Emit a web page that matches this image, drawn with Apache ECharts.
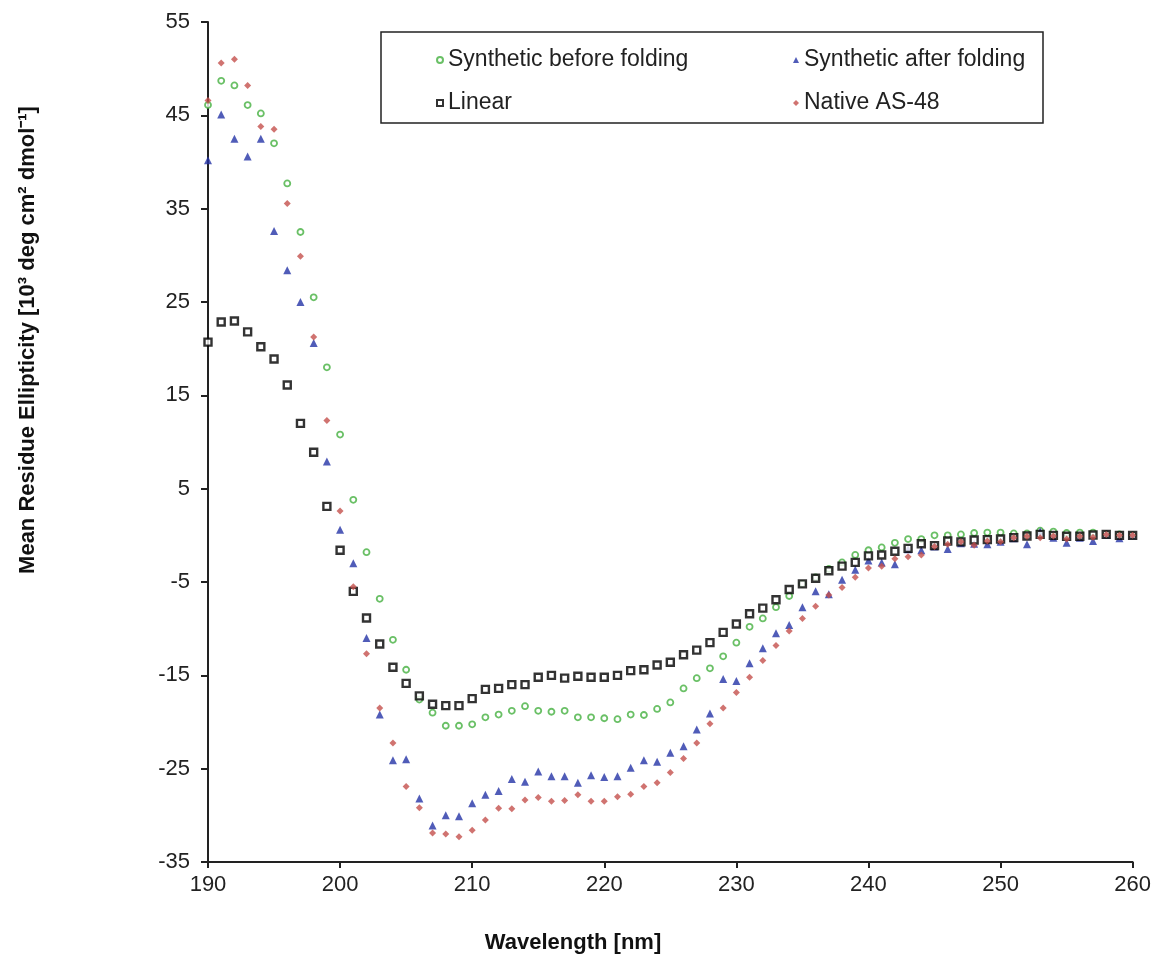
<!DOCTYPE html>
<html>
<head>
<meta charset="utf-8">
<script src="https://cdn.jsdelivr.net/npm/echarts@6/dist/echarts.min.js"></script>
<style>
html,body{margin:0;padding:0;background:#fff;}
#chart{width:1154px;height:955px;}
</style>
</head>
<body>
<div id="chart"></div>
<script>
var wavelengths = [190,191,192,193,194,195,196,197,198,199,200,201,202,203,204,205,206,207,208,209,210,211,212,213,214,215,216,217,218,219,220,221,222,223,224,225,226,227,228,229,230,231,232,233,234,235,236,237,238,239,240,241,242,243,244,245,246,247,248,249,250,251,252,253,254,255,256,257,258,259,260];

var syntheticBefore = [46.1,48.7,48.2,46.1,45.2,42.0,37.7,32.5,25.5,18.0,10.8,3.8,-1.8,-6.8,-11.2,-14.4,-17.6,-19.0,-20.4,-20.4,-20.25,-19.5,-19.2,-18.8,-18.3,-18.8,-18.9,-18.8,-19.5,-19.5,-19.6,-19.7,-19.2,-19.25,-18.6,-17.9,-16.4,-15.3,-14.25,-12.96,-11.5,-9.8,-8.9,-7.7,-6.5,-5.2,-4.5,-3.6,-2.9,-2.1,-1.6,-1.3,-0.8,-0.4,-0.4,0.0,0.0,0.1,0.25,0.3,0.3,0.2,0.2,0.5,0.4,0.25,0.3,0.3,0.1,0.1,0.0];

var syntheticAfter = [40.2,45.1,42.5,40.6,42.5,32.6,28.4,25.0,20.6,7.9,0.6,-3.0,-11.0,-19.2,-24.1,-24.0,-28.2,-31.1,-30.0,-30.1,-28.7,-27.8,-27.4,-26.1,-26.4,-25.3,-25.8,-25.8,-26.5,-25.7,-25.9,-25.8,-24.9,-24.1,-24.25,-23.3,-22.6,-20.8,-19.1,-15.4,-15.6,-13.7,-12.1,-10.5,-9.6,-7.7,-6.0,-6.3,-4.75,-3.7,-2.7,-2.9,-3.1,-1.5,-1.6,-1.2,-1.46,-0.85,-0.9,-0.96,-0.7,-0.3,-0.96,0.4,-0.25,-0.8,-0.25,-0.6,0.1,-0.3,0.0];

var linear = [20.7,22.86,22.96,21.8,20.2,18.9,16.1,12.0,8.9,3.1,-1.6,-6.0,-8.86,-11.64,-14.14,-15.86,-17.2,-18.1,-18.25,-18.25,-17.5,-16.5,-16.4,-16.0,-16.0,-15.2,-15.0,-15.3,-15.1,-15.2,-15.2,-15.0,-14.5,-14.4,-13.9,-13.6,-12.8,-12.3,-11.5,-10.4,-9.5,-8.4,-7.8,-6.9,-5.8,-5.2,-4.6,-3.8,-3.3,-2.9,-2.2,-2.1,-1.7,-1.4,-0.9,-1.1,-0.6,-0.7,-0.5,-0.46,-0.4,-0.25,-0.07,0.1,0.0,-0.1,-0.1,0.04,0.1,0.0,0.0];

var nativeAS48 = [46.6,50.6,51.0,48.2,43.8,43.5,35.55,29.9,21.25,12.3,2.6,-5.5,-12.7,-18.5,-22.25,-26.9,-29.2,-31.9,-32.0,-32.3,-31.6,-30.5,-29.25,-29.3,-28.35,-28.1,-28.5,-28.4,-27.8,-28.5,-28.5,-28.0,-27.75,-26.9,-26.5,-25.4,-23.9,-22.25,-20.2,-18.5,-16.85,-15.2,-13.4,-11.8,-10.25,-8.9,-7.6,-6.4,-5.6,-4.5,-3.5,-3.3,-2.5,-2.3,-2.1,-1.2,-0.96,-0.7,-1.06,-0.6,-0.7,-0.25,-0.1,-0.25,-0.07,-0.4,-0.1,-0.2,0.1,0.0,0.0];

var seriesNames = ['Synthetic before folding','Synthetic after folding','Linear','Native AS-48'];
var xAxisTitle = 'Wavelength [nm]';
var yAxisTitle = 'Mean Residue Ellipticity [10\u00B3 deg cm\u00B2 dmol\u207B\u00B9]';

function pairs(vals){ return wavelengths.map(function(w,i){ return [w, vals[i]]; }); }

var FONT = '"Liberation Sans", Arial, Helvetica, sans-serif';
var chart = echarts.init(document.getElementById('chart'), null, {renderer:'canvas'});
var option = {
  backgroundColor:'#fff',
  animation:false,
  textStyle:{fontFamily:FONT},
  grid:{left:208, right:21, top:22, bottom:93, containLabel:false},
  xAxis:{
    type:'value', min:190, max:260, interval:10,
    axisLine:{show:true, onZero:false, lineStyle:{color:'#222', width:2}},
    axisTick:{show:true, length:6, lineStyle:{color:'#222', width:2}},
    axisLabel:{color:'#222', fontSize:22, margin:12, fontFamily:FONT},
    splitLine:{show:false}
  },
  yAxis:{
    type:'value', min:-35, max:55, interval:10,
    axisLine:{show:true, onZero:false, lineStyle:{color:'#222', width:2}},
    axisTick:{show:true, length:7, lineStyle:{color:'#222', width:2}},
    axisLabel:{color:'#222', fontSize:22, margin:18, fontFamily:FONT},
    splitLine:{show:false}
  },
  legend:[
    {data:[seriesNames[0], seriesNames[2]], orient:'vertical', left:436, top:48, padding:0,
     itemWidth:6, itemHeight:6, itemGap:19,
     textStyle:{fontSize:23, color:'#222', fontFamily:FONT, lineHeight:24}},
    {data:[seriesNames[1], seriesNames[3]], orient:'vertical', left:793, top:48, padding:0,
     itemWidth:6, itemHeight:6, itemGap:19,
     textStyle:{fontSize:23, color:'#222', fontFamily:FONT, lineHeight:24}}
  ],
  graphic:[
    {type:'rect', shape:{x:381, y:32, width:662, height:91}, style:{fill:'none', stroke:'#222', lineWidth:1.5}, silent:true},
    {type:'text', x:28, y:340, rotation:Math.PI/2,
     style:{text:yAxisTitle, font:'bold 22px '+FONT, fill:'#111', align:'center', verticalAlign:'middle', textAlign:'center', textVerticalAlign:'middle'}},
    {type:'text', x:573, y:943,
     style:{text:xAxisTitle, font:'bold 22px '+FONT, fill:'#111', align:'center', verticalAlign:'middle', textAlign:'center', textVerticalAlign:'middle'}}
  ],
  series:[
    {name:seriesNames[0], type:'scatter', data:pairs(syntheticBefore), symbol:'circle', symbolSize:6,
     itemStyle:{color:'#fff', borderColor:'#45b040', borderWidth:1.8}},
    {name:seriesNames[1], type:'scatter', data:pairs(syntheticAfter), symbol:'triangle', symbolSize:8,
     itemStyle:{color:'#2433a6'}},
    {name:seriesNames[2], type:'scatter', data:pairs(linear), symbol:'rect', symbolSize:7,
     itemStyle:{color:'#fff', borderColor:'#000', borderWidth:2.4}},
    {name:seriesNames[3], type:'scatter', data:pairs(nativeAS48), symbol:'diamond', symbolSize:7,
     itemStyle:{color:'#c4504c'}}
  ]
};
chart.setOption(option);
</script>
</body>
</html>
